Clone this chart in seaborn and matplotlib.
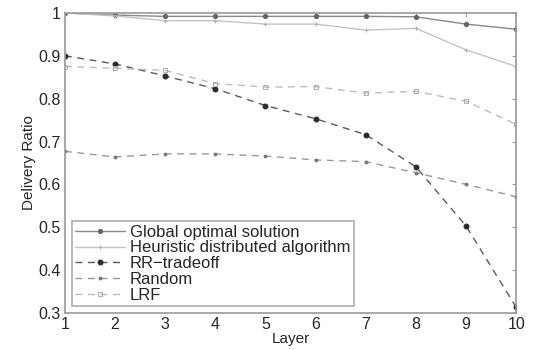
import matplotlib
matplotlib.use("Agg")
import matplotlib.pyplot as plt
import seaborn as sns
import pandas as pd

layers = [1, 2, 3, 4, 5, 6, 7, 8, 9, 10]
global_opt = [1.0, 0.995, 0.992, 0.992, 0.992, 0.992, 0.992, 0.991, 0.974, 0.962]
heuristic = [1.0, 0.993, 0.982, 0.982, 0.974, 0.974, 0.960, 0.964, 0.914, 0.875]
rr_tradeoff = [0.900, 0.881, 0.853, 0.823, 0.784, 0.753, 0.716, 0.641, 0.503, 0.313]
random_ = [0.677, 0.664, 0.671, 0.671, 0.666, 0.657, 0.653, 0.627, 0.600, 0.571]
lrf = [0.875, 0.871, 0.866, 0.835, 0.827, 0.828, 0.813, 0.817, 0.794, 0.740]
series_names = ["Global optimal solution", "Heuristic distributed algorithm",
                "RR\u2212tradeoff", "Random", "LRF"]
y_ticks = [0.3, 0.4, 0.5, 0.6, 0.7, 0.8, 0.9, 1]
y_ticklabels = ["0.3", "0.4", "0.5", "0.6", "0.7", "0.8", "0.9", "1"]

df = pd.DataFrame({
    "Layer": layers * 5,
    "value": global_opt + heuristic + rr_tradeoff + random_ + lrf,
    "series": sum([[n] * len(layers) for n in series_names], []),
})

sns.set_style("white")
plt.rcParams["font.family"] = ["Liberation Sans", "DejaVu Sans"]

fig = plt.figure(figsize=(5.36, 3.5), dpi=100)
ax = fig.add_axes([0.121, 0.106, 0.842, 0.857])

styles = {
    series_names[0]: dict(color="#8a8a8a", ls="-", marker="o", ms=3, mfc="#666666", mec="#666666"),
    series_names[1]: dict(color="#c4c4c4", ls="-", marker="+", ms=3, mfc="#b0b0b0", mec="#b0b0b0"),
    series_names[2]: dict(color="#5a5a5a", ls=(0, (5, 4)), marker="o", ms=3.5, mfc="#2a2a2a", mec="#2a2a2a"),
    series_names[3]: dict(color="#9a9a9a", ls=(0, (5, 4)), marker="o", ms=2, mfc="#777777", mec="#777777"),
    series_names[4]: dict(color="#bdbdbd", ls=(0, (5, 4)), marker="s", ms=3.5, mfc="none", mec="#b0b0b0"),
}

for name in series_names:
    st = styles[name]
    sub = df[df["series"] == name]
    sns.lineplot(data=sub, x="Layer", y="value", ax=ax, color=st["color"],
                 linestyle=st["ls"], marker=st["marker"], markersize=st["ms"],
                 markerfacecolor=st["mfc"], markeredgecolor=st["mec"],
                 linewidth=1.0, label=name, estimator=None)

ax.set_xlim(1, 10)
ax.set_ylim(0.3, 1.0)
ax.set_xticks(layers)
ax.set_xticklabels([str(v) for v in layers])
ax.set_yticks(y_ticks)
ax.set_yticklabels(y_ticklabels)
ax.set_xlabel("Layer", fontsize=11, labelpad=0)
ax.set_ylabel("Delivery Ratio", fontsize=11, labelpad=2)
ax.tick_params(direction="in", length=3, width=0.8, color="#999999",
               top=True, right=True, labelsize=11.5, pad=3)
for sp in ax.spines.values():
    sp.set_color("#999999")
    sp.set_linewidth(1.2)

leg = ax.legend(loc="lower left", fontsize=12, frameon=True, fancybox=False,
                borderpad=0.2, labelspacing=0.05, handlelength=3.0,
                handletextpad=0.3, borderaxespad=0.4)
leg.get_frame().set_edgecolor("#999999")
leg.get_frame().set_linewidth(1.2)

fig.savefig("out.png", dpi=100)
